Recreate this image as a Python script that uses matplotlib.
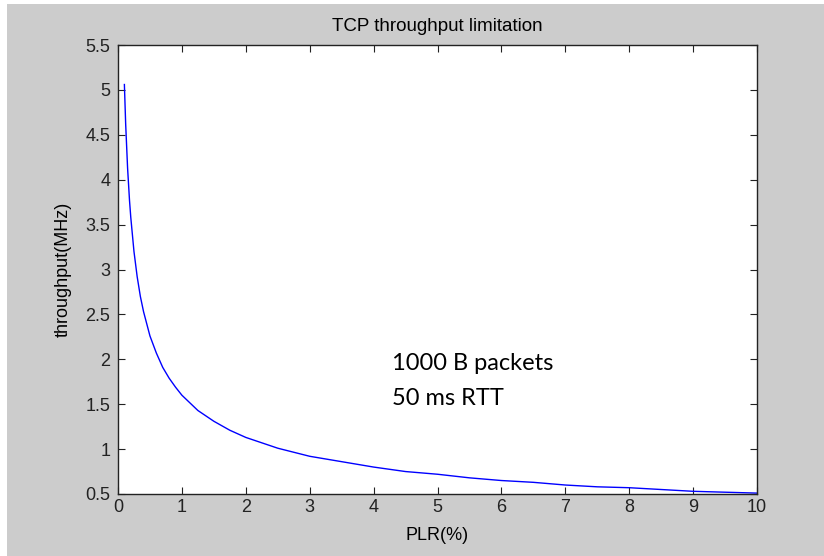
#!/usr/bin/env python3
# coding: utf-8

import matplotlib.pyplot as plt
from matplotlib.patches import Rectangle

# packet loss ratio (%) and throughput (MHz)
plr = [0.1, 0.12, 0.15, 0.18, 0.2, 0.25, 0.3, 0.35, 0.4, 0.5, 0.6, 0.7, 0.8,
       0.9, 1.0, 1.25, 1.5, 1.75, 2.0, 2.5, 3.0, 3.5, 4.0, 4.5, 5.0, 5.5,
       6.0, 6.5, 7.0, 7.5, 8.0, 8.5, 9.0, 9.5, 10.0]
throughput = [5.06, 4.62, 4.13, 3.77, 3.58, 3.20, 2.92, 2.70, 2.53, 2.26,
              2.07, 1.91, 1.79, 1.69, 1.60, 1.43, 1.31, 1.21, 1.13, 1.01,
              0.92, 0.86, 0.80, 0.75, 0.72, 0.68, 0.65, 0.63, 0.60, 0.58,
              0.57, 0.55, 0.53, 0.52, 0.51]

xticks = list(range(0, 11))
yticks = [0.5, 1, 1.5, 2, 2.5, 3, 3.5, 4, 4.5, 5, 5.5]
ylabels = ['0.5', '1', '1.5', '2', '2.5', '3', '3.5', '4', '4.5', '5', '5.5']
notes = ['1000 B packets', '50 ms RTT']


def main():
    plt.rcParams['font.family'] = ['Liberation Sans', 'DejaVu Sans']
    fig = plt.figure(figsize=(8.24, 5.56), dpi=100, facecolor='white')
    fig.patches.append(Rectangle((7 / 824, 0), 1, (556 - 4) / 556,
                                 transform=fig.transFigure,
                                 facecolor='#cccccc', edgecolor='none',
                                 zorder=-10))

    ax = fig.add_axes([118 / 824, 62 / 556, 639 / 824, 449 / 556])
    ax.plot(plr, throughput, color='#0000ff', lw=1.0)

    ax.set_xlim(0, 10)
    ax.set_ylim(0.5, 5.5)
    ax.set_xticks(xticks)
    ax.set_yticks(yticks)
    ax.set_yticklabels(ylabels)
    ax.tick_params(direction='in', top=True, right=True, length=5,
                   width=0.8, labelsize=13, colors='#222222')
    ax.tick_params(axis='x', pad=3.5)
    ax.tick_params(axis='y', pad=5.5)
    for s in ax.spines.values():
        s.set_linewidth(1.0)
        s.set_color('#222222')

    ax.set_title('TCP throughput limitation', fontsize=13.5, pad=10)
    ax.set_xlabel('PLR(%)', fontsize=13, labelpad=8)
    ax.set_ylabel('throughput(MHz)', fontsize=13, labelpad=10)

    for txt, y in zip(notes, [1.88, 1.49]):
        ax.text(4.29, y, txt, fontsize=17, family=['Lato', 'DejaVu Sans'],
                va='baseline', ha='left')

    fig.savefig('out.png', dpi=100, facecolor=fig.get_facecolor())


if __name__ == '__main__':
    main()
